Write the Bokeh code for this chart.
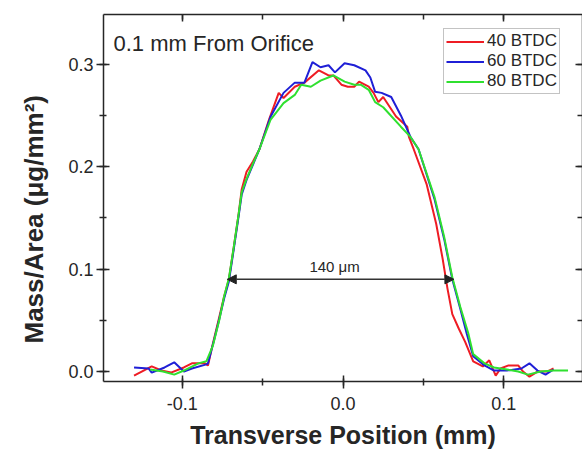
from bokeh.plotting import figure
from bokeh.models import (Range1d, LinearAxis, SingleIntervalTicker, Legend, LegendItem,
                          Label, Arrow, NormalHead, PrintfTickFormatter, CustomJSTickFormatter,
                          Title)
from bokeh.embed import file_html
from bokeh.resources import INLINE

# ---- data (Transverse position in mm, mass/area in ug/mm^2) ----
x_40 = [-0.130, -0.119, -0.113, -0.107, -0.099, -0.094, -0.086, -0.084, -0.081, -0.077,
        -0.074, -0.071, -0.068, -0.065, -0.063, -0.060, -0.056, -0.052, -0.046, -0.040,
        -0.037, -0.030, -0.024, -0.015, -0.009, -0.006, -0.001, 0.003, 0.007, 0.010,
        0.016, 0.019, 0.022, 0.025, 0.033, 0.040, 0.041, 0.044, 0.052, 0.058,
        0.062, 0.065, 0.068, 0.072, 0.076, 0.081, 0.087, 0.091, 0.095, 0.098,
        0.103, 0.109, 0.112, 0.116, 0.121, 0.127, 0.131]
y_40 = [-0.004, 0.005, 0.001, -0.001, 0.004, 0.008, 0.008, 0.006, 0.027, 0.053,
        0.073, 0.090, 0.121, 0.153, 0.178, 0.195, 0.205, 0.217, 0.246, 0.272,
        0.267, 0.278, 0.282, 0.294, 0.289, 0.289, 0.280, 0.278, 0.278, 0.283,
        0.278, 0.272, 0.263, 0.268, 0.249, 0.239, 0.229, 0.217, 0.183, 0.144,
        0.110, 0.081, 0.056, 0.042, 0.029, 0.010, 0.005, 0.011, -0.004, 0.003,
        0.006, 0.006, 0.000, -0.005, 0.000, 0.000, 0.003]

x_60 = [-0.130, -0.121, -0.119, -0.111, -0.105, -0.099, -0.094, -0.085, -0.084, -0.080,
        -0.077, -0.074, -0.071, -0.068, -0.065, -0.063, -0.060, -0.056, -0.052, -0.045,
        -0.037, -0.030, -0.024, -0.019, -0.014, -0.009, -0.005, 0.001, 0.007, 0.014,
        0.017, 0.020, 0.024, 0.030, 0.036, 0.042, 0.047, 0.057, 0.063, 0.068,
        0.073, 0.077, 0.081, 0.088, 0.094, 0.102, 0.111, 0.116, 0.121, 0.126, 0.131]
y_60 = [0.004, 0.003, -0.001, 0.004, 0.009, 0.000, 0.003, 0.007, 0.008, 0.032,
        0.051, 0.071, 0.088, 0.119, 0.151, 0.173, 0.187, 0.202, 0.217, 0.249,
        0.272, 0.282, 0.282, 0.302, 0.297, 0.299, 0.292, 0.301, 0.299, 0.294,
        0.287, 0.273, 0.272, 0.268, 0.250, 0.229, 0.217, 0.168, 0.129, 0.090,
        0.061, 0.037, 0.015, 0.006, 0.001, 0.001, 0.003, 0.008, 0.001, -0.003, 0.002]

x_80 = [-0.120, -0.112, -0.105, -0.099, -0.090, -0.085, -0.081, -0.077, -0.074, -0.071,
        -0.068, -0.065, -0.063, -0.060, -0.056, -0.052, -0.045, -0.037, -0.030, -0.026,
        -0.020, -0.014, -0.006, 0.001, 0.007, 0.011, 0.016, 0.020, 0.025, 0.036,
        0.042, 0.047, 0.057, 0.063, 0.068, 0.073, 0.078, 0.081, 0.088, 0.094,
        0.102, 0.109, 0.115, 0.123, 0.131, 0.140]
y_80 = [0.002, 0.000, -0.003, 0.001, 0.008, 0.010, 0.025, 0.050, 0.073, 0.091,
        0.121, 0.153, 0.175, 0.188, 0.203, 0.217, 0.246, 0.262, 0.270, 0.280,
        0.278, 0.284, 0.289, 0.283, 0.280, 0.280, 0.275, 0.263, 0.258, 0.239,
        0.229, 0.217, 0.170, 0.131, 0.092, 0.063, 0.037, 0.017, 0.008, 0.004,
        0.002, 0.000, -0.003, 0.000, 0.001, 0.001]

series_names = ["40 BTDC", "60 BTDC", "80 BTDC"]
arrow_x = [-0.072, 0.069]
arrow_y = 0.09
arrow_text = "140 \u03bcm"
title_text = "0.1 mm From Orifice"
x_title = "Transverse Position (mm)"
y_title = "Mass/Area (\u03bcg/mm\u00b2)"

FONT = "Liberation Sans"
AX = "#262626"

p = figure(width=582, height=451, output_backend="svg", toolbar_location=None,
           x_range=Range1d(-0.149, 0.149), y_range=Range1d(-0.0097, 0.3485),
           min_border_left=102, min_border_right=0, min_border_top=14, min_border_bottom=68,
           x_axis_label=x_title)
p.xgrid.visible = False
p.ygrid.visible = False
p.outline_line_color = None
p.background_fill_color = "white"
p.border_fill_color = "white"

for ax in (p.xaxis[0], p.yaxis[0]):
    ax.ticker = SingleIntervalTicker(interval=0.1, num_minor_ticks=2)
    ax.formatter = PrintfTickFormatter(format="%.1f")
    ax.axis_line_color = AX
    ax.axis_line_width = 1.5
    ax.major_tick_line_color = AX
    ax.minor_tick_line_color = AX
    ax.major_tick_line_width = 1.5
    ax.minor_tick_line_width = 1.5
    ax.major_tick_in = 6
    ax.major_tick_out = 7
    ax.minor_tick_in = 3
    ax.minor_tick_out = 4
    ax.major_label_text_font = FONT
    ax.major_label_text_font_size = "18px"
    ax.major_label_text_color = AX
    ax.axis_label_text_font = FONT
    ax.axis_label_text_font_size = "25px"
    ax.axis_label_text_font_style = "bold"
    ax.axis_label_text_color = AX

p.xaxis[0].major_label_standoff = 8
p.xaxis[0].axis_label_standoff = 8
p.yaxis[0].major_label_standoff = 3

blank = CustomJSTickFormatter(code="return ''")
for loc in ("above", "right"):
    a = LinearAxis(ticker=SingleIntervalTicker(interval=0.1, num_minor_ticks=2),
                   formatter=blank, major_label_standoff=0,
                   axis_line_color=AX, axis_line_width=1.5,
                   major_tick_line_color=AX, minor_tick_line_color=AX,
                   major_tick_line_width=1.5, minor_tick_line_width=1.5,
                   major_tick_in=7, major_tick_out=0, minor_tick_in=5, minor_tick_out=0)
    p.add_layout(a, loc)

# y-axis title, placed a little below the frame centre as in the reference
p.add_layout(Title(text=y_title, align="left", offset=38, standoff=33,
                   text_font=FONT, text_font_size="26px", text_font_style="bold",
                   text_color=AX), "left")

colors = ["#ee1c24", "#1f1fd6", "#2fe02f"]
r40 = p.line(x_40, y_40, line_color=colors[0], line_width=2)
r60 = p.line(x_60, y_60, line_color=colors[1], line_width=2)
r80 = p.line(x_80, y_80, line_color=colors[2], line_width=2)

legend = Legend(items=[LegendItem(label=series_names[0], renderers=[r40]),
                       LegendItem(label=series_names[1], renderers=[r60]),
                       LegendItem(label=series_names[2], renderers=[r80])],
                location=(340, 287), glyph_width=38, glyph_height=19, label_height=19,
                label_standoff=3, spacing=0, padding=2, margin=0,
                label_text_font=FONT, label_text_font_size="17px", label_text_color=AX,
                border_line_color="#888888", border_line_width=1,
                background_fill_color="white", background_fill_alpha=1)
p.add_layout(legend, "center")

arrow = Arrow(start=NormalHead(size=9, fill_color="#222222", line_color="#222222"),
              end=NormalHead(size=9, fill_color="#222222", line_color="#222222"),
              x_start=arrow_x[0], x_end=arrow_x[1], y_start=arrow_y, y_end=arrow_y,
              line_color="#333333", line_width=1.5)
p.add_layout(arrow)

p.add_layout(Label(x=(arrow_x[0] + arrow_x[1]) / 2, y=arrow_y, text=arrow_text,
                   text_align="center", text_baseline="bottom", y_offset=4, x_offset=-6,
                   text_font=FONT, text_font_size="15px", text_color=AX))

p.add_layout(Label(x=10, y=351, x_units="screen", y_units="screen", text=title_text,
                   text_align="left", text_baseline="top",
                   text_font=FONT, text_font_size="22px", text_color=AX))

open("out.html", "w").write(file_html(p, INLINE))
